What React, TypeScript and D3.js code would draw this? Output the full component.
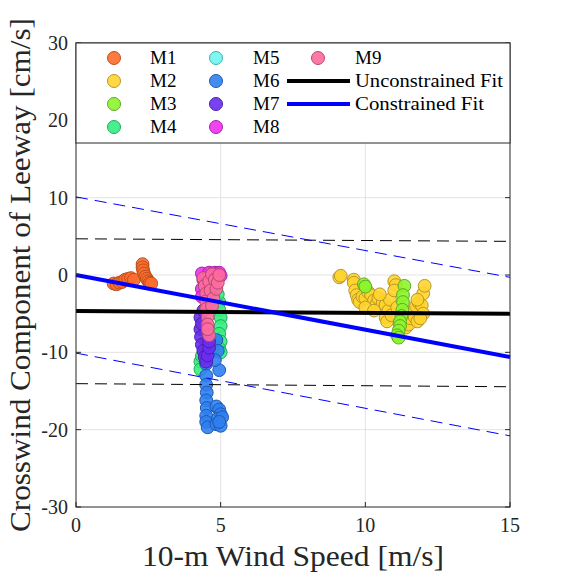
import React from "react";
import * as d3 from "d3";

const W = 563, H = 577;
const M = { left: 76, right: 510, top: 43, bottom: 507 };

const xTicks = [0, 5, 10, 15];
const yTicks = [30, 20, 10, 0, -10, -20, -30];

const seriesNames = ["M1", "M2", "M3", "M4", "M5", "M6", "M7", "M8", "M9"];
const faceColors = ["#FF6B2B", "#FFD42E", "#8CF52E", "#33EE7F", "#70F5F0", "#2F7FF0", "#6A2EF0", "#F030F0", "#FF6A9E"];
const edgeColors = ["#B8501E", "#B8962A", "#5FA820", "#22A85A", "#40B0B0", "#2058B0", "#4A20A8", "#A820A8", "#B04A70"];

const m1 = [[1.3,-1.1],[1.4,-1.2],[1.5,-1.0],[1.6,-0.9],[1.7,-0.6],[1.8,-0.5],[1.9,-0.4],[2.0,-0.6],[2.3,1.4],[2.3,1.0],[2.32,0.6],[2.35,0.2],[2.4,-0.2],[2.45,-0.5],[2.5,-0.8],[2.55,-1.0],[2.6,-1.1]];
const m2 = [[9.1,-0.3],[9.15,-0.1],[9.6,-0.6],[9.6,-1.0],[9.65,-2.0],[9.7,-2.6],[9.75,-3.2],[9.8,-3.5],[9.9,-2.8],[10.0,-3.0],[10.1,-2.2],[10.2,-2.6],[10.3,-3.3],[10.4,-3.7],[10.45,-3.0],[10.55,-4.3],[10.6,-3.6],[10.7,-3.9],[10.7,-5.5],[10.75,-6.0],[10.8,-4.6],[10.85,-3.2],[10.9,-5.2],[11.0,-0.8],[11.05,-1.3],[11.0,-2.0],[11.1,-4.2],[11.2,-6.2],[11.4,-6.8],[11.5,-6.4],[11.55,-5.6],[11.6,-4.8],[11.7,-5.4],[11.75,-4.0],[11.8,-6.0],[11.85,-3.6],[11.95,-3.9],[12.0,-2.4],[12.05,-1.4],[12.0,-5.0],[11.9,-5.6],[11.8,-3.2],[10.0,-4.2],[10.3,-4.6],[10.5,-2.5]];
const m3 = [[9.95,-1.2],[10.0,-1.5],[11.35,-1.4],[11.3,-2.6],[11.3,-3.5],[11.28,-4.5],[11.25,-5.3],[11.2,-6.0],[11.2,-6.6],[11.15,-7.2],[11.1,-7.8],[11.15,-8.1]];
const m4 = [[4.3,-11.2],[4.3,-12.2],[4.35,-10.5],[4.95,-3.5],[4.95,-4.5],[5.0,-5.5],[5.0,-6.6],[4.95,-7.6],[5.0,-8.6],[4.95,-9.5],[5.0,-10.0],[4.9,-2.5]];
const m5 = [[4.55,-2.2],[4.6,-3.4]];
const m6 = [[4.5,-8.6],[4.55,-10.0],[4.5,-11.5],[4.5,-13.0],[4.5,-14.2],[4.52,-15.2],[4.5,-16.2],[4.52,-17.2],[4.5,-18.2],[4.5,-19.0],[4.55,-19.7],[4.85,-8.4],[4.9,-9.8],[4.95,-12.3],[4.8,-11.0],[4.85,-17.0],[4.95,-17.4],[5.0,-18.0],[4.9,-18.6],[4.85,-19.3],[5.0,-19.5],[5.05,-18.4],[4.95,-19.0]];
const m7 = [[4.3,-5.5],[4.3,-7.0],[4.32,-8.0],[4.35,-9.0],[4.4,-9.8],[4.45,-10.6],[4.5,-11.2],[4.55,-10.4],[4.6,-9.4],[4.6,-8.6],[4.4,-4.6],[4.35,-6.3]];
const m8 = [[4.35,0.2],[4.4,-0.6],[4.45,-1.2],[4.35,-1.8],[4.6,0.3],[4.7,0.1],[4.8,0.3],[4.9,0.2],[5.0,-0.1],[4.95,0.3],[4.35,-2.8]];
const m9 = [[4.4,-0.4],[4.45,-1.4],[4.5,-2.4],[4.5,-3.4],[4.5,-4.4],[4.55,-5.4],[4.55,-6.4],[4.6,-7.8],[4.6,-0.8],[4.65,-2.0],[4.7,0.1],[4.75,-3.0],[4.8,-0.6],[4.85,-1.8],[4.9,-1.0],[4.95,0.0],[4.7,-4.0],[4.55,-7.0]];
const seriesData = [m1, m2, m3, m4, m5, m6, m7, m8, m9];

const fitX = [0, 15];
const unconstrainedFit = [-4.65, -5.02];
const unconstrainedUpper = [4.68, 4.35];
const unconstrainedLower = [-14.05, -14.45];
const constrainedFit = [0, -10.6];
const constrainedUpper = [10.1, -0.3];
const constrainedLower = [-10.1, -20.8];

const FONT = "Liberation Serif, DejaVu Serif, serif";
const AX = "#262626";

export default function App() {
  const x = d3.scaleLinear().domain([0, 15]).range([M.left, M.right]);
  const y = d3.scaleLinear().domain([-30, 30]).range([M.bottom, M.top]);
  const line = d3.line<number>().x((_, i) => x(fitX[i])).y((d) => y(d));

  const legendRows = [58, 81, 104, 127];
  const legendCols = [{ m: 114, t: 150 }, { m: 216, t: 253 }, { m: 318, t: 355 }];
  const legendItems = seriesNames.map((n, i) => ({ n, i, col: Math.floor(i / 4), row: i % 4 }));
  const ts = { fontFamily: FONT };

  return (
    <svg width={W} height={H} style={{ position: "absolute", left: 0, top: 0, background: "#fff" }}>
      <rect x={0} y={0} width={W} height={H} fill="#fff" />
      {xTicks.filter((t) => t > 0 && t < 15).map((t) => (
        <line key={"gx" + t} x1={x(t)} x2={x(t)} y1={M.top} y2={M.bottom} stroke="#e3e3e3" strokeWidth={1} />
      ))}
      {yTicks.filter((t) => t > -30 && t < 30).map((t) => (
        <line key={"gy" + t} x1={M.left} x2={M.right} y1={y(t)} y2={y(t)} stroke="#e3e3e3" strokeWidth={1} />
      ))}
      {seriesData.map((pts, si) => (
        <g key={"s" + si}>
          {pts.map((p, j) => (
            <circle key={j} cx={x(p[0])} cy={y(p[1])} r={6.4} fill={faceColors[si]} fillOpacity={0.9} stroke={edgeColors[si]} strokeWidth={1} />
          ))}
        </g>
      ))}
      <path d={line(unconstrainedUpper) || ""} fill="none" stroke="#000" strokeWidth={1} strokeDasharray="12,7" />
      <path d={line(unconstrainedLower) || ""} fill="none" stroke="#000" strokeWidth={1} strokeDasharray="12,7" />
      <path d={line(constrainedUpper) || ""} fill="none" stroke="#0000ff" strokeWidth={1} strokeDasharray="12,7" />
      <path d={line(constrainedLower) || ""} fill="none" stroke="#0000ff" strokeWidth={1} strokeDasharray="12,7" />
      <path d={line(unconstrainedFit) || ""} fill="none" stroke="#000" strokeWidth={4} />
      <path d={line(constrainedFit) || ""} fill="none" stroke="#0000ff" strokeWidth={4} />
      <rect x={M.left} y={M.top} width={M.right - M.left} height={M.bottom - M.top} fill="none" stroke={AX} strokeWidth={1} />
      {xTicks.map((t) => (
        <g key={"xt" + t}>
          <line x1={x(t)} x2={x(t)} y1={M.bottom} y2={M.bottom - 5} stroke={AX} />
          <text x={x(t)} y={532} textAnchor="middle" fontSize={20} fill={AX} style={ts}>{t}</text>
        </g>
      ))}
      {yTicks.map((t) => (
        <g key={"yt" + t}>
          <line x1={M.left} x2={M.left + 5} y1={y(t)} y2={y(t)} stroke={AX} />
          <line x1={M.right} x2={M.right - 5} y1={y(t)} y2={y(t)} stroke={AX} />
          <text x={68} y={y(t) + 7} textAnchor="end" fontSize={20} fill={AX} style={ts}>{t}</text>
        </g>
      ))}
      <rect x={M.left} y={M.top} width={M.right - M.left} height={100} fill="#fff" stroke={AX} strokeWidth={1} />
      {legendItems.map((it) => (
        <g key={"lg" + it.n}>
          <circle cx={legendCols[it.col].m} cy={legendRows[it.row]} r={6.5} fill={faceColors[it.i]} fillOpacity={0.9} stroke={edgeColors[it.i]} strokeWidth={1} />
          <text x={legendCols[it.col].t} y={legendRows[it.row] + 6} fontSize={19} fill="#000" style={ts}>{it.n}</text>
        </g>
      ))}
      <line x1={287} x2={350} y1={legendRows[1]} y2={legendRows[1]} stroke="#000" strokeWidth={4} />
      <text x={355} y={legendRows[1] + 6} fontSize={19} textLength={148} lengthAdjust="spacingAndGlyphs" style={ts}>Unconstrained Fit</text>
      <line x1={287} x2={350} y1={legendRows[2]} y2={legendRows[2]} stroke="#0000ff" strokeWidth={4} />
      <text x={355} y={legendRows[2] + 6} fontSize={19} textLength={129} lengthAdjust="spacingAndGlyphs" style={ts}>Constrained Fit</text>
      <text x={(M.left + M.right) / 2} y={566} textAnchor="middle" fontSize={29} fill={AX} textLength={302} lengthAdjust="spacingAndGlyphs" style={ts}>10-m Wind Speed [m/s]</text>
      <text transform={`translate(30, ${(M.top + M.bottom) / 2}) rotate(-90)`} textAnchor="middle" fontSize={29} fill={AX} textLength={514} lengthAdjust="spacingAndGlyphs" style={ts}>Crosswind Component of Leeway [cm/s]</text>
    </svg>
  );
}
